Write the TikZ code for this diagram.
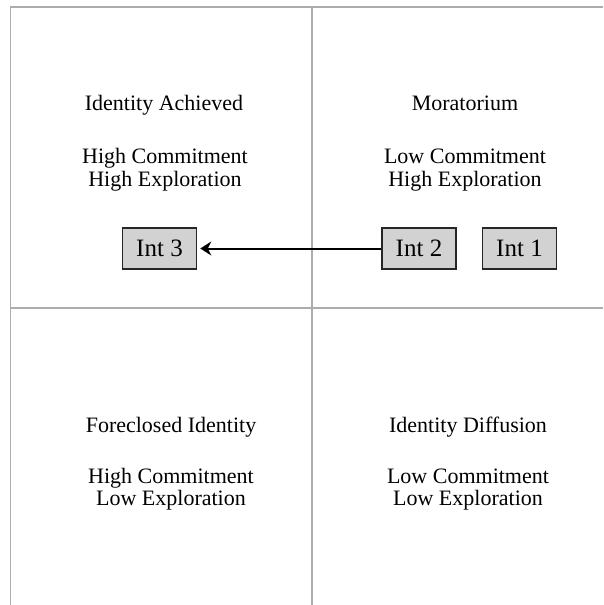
\documentclass[tikz,border=0pt]{standalone}
\usepackage{fontspec}
\setmainfont{Liberation Serif}
\usetikzlibrary{arrows.meta,positioning}
\definecolor{gridgray}{RGB}{172,172,172}
\definecolor{boxgray}{RGB}{210,210,210}
\tikzset{
  grid line/.style = {line width=1.5pt, gridgray},
  qtitle/.style    = {font=\fontsize{22}{23}\selectfont, inner sep=0pt, anchor=base},
  qtext/.style     = {font=\fontsize{22}{23}\selectfont, inner sep=0pt, anchor=base},
  intbox/.style    = {draw=black!85, line width=1.6pt, fill=boxgray,
                      minimum width=74pt, minimum height=41pt, inner sep=0pt,
                      font=\fontsize{25}{26}\selectfont},
  flow/.style      = {-{Stealth[length=11pt,width=14pt]}, line width=2pt},
}

\begin{document}
\begin{tikzpicture}[x=1pt,y=-1pt]
  \useasboundingbox (0,0) rectangle (603,605);

  % quadrant grid
  \draw[grid line] (603,7) -- (10.5,7) -- (10.5,605);
  \draw[grid line] (312,7) -- (312,605);
  \draw[grid line] (10.5,308) -- (603,308);

  % identity statuses
  \node[qtitle] (achT) at (164,110) {Identity Achieved};
  \node[qtext]  (achC) at (165,163) {High Commitment};
  \node[qtext]  (achE) at (165,186) {High Exploration};

  \node[qtitle] (morT) at (465,110) {Moratorium};
  \node[qtext]  (morC) at (465,163) {Low Commitment};
  \node[qtext]  (morE) at (465,186) {High Exploration};

  \node[qtitle] (forT) at (171,432) {Foreclosed Identity};
  \node[qtext]  (forC) at (171,483) {High Commitment};
  \node[qtext]  (forE) at (171,505) {Low Exploration};

  \node[qtitle] (difT) at (468,432) {Identity Diffusion};
  \node[qtext]  (difC) at (468,483) {Low Commitment};
  \node[qtext]  (difE) at (468,505) {Low Exploration};

  % interviews
  \node[intbox] (int3) at (159.5,248.5) {Int 3};
  \node[intbox] (int2) at (419,248.5)   {Int 2};
  \node[intbox] (int1) at (519.5,248.5) {Int 1};

  \draw[flow, shorten >=3pt] (int2) -- (int3);
\end{tikzpicture}
\end{document}
